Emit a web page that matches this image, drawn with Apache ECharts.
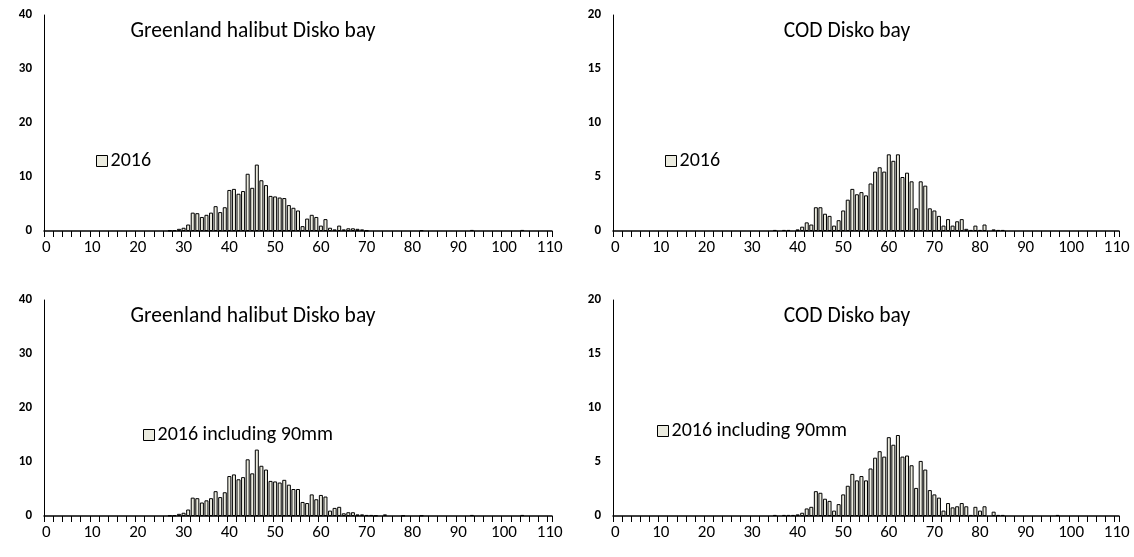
<!DOCTYPE html>
<html>
<head>
<meta charset="utf-8">
<script src="https://cdn.jsdelivr.net/npm/echarts@6/dist/echarts.min.js"></script>
<style>
  html, body { margin: 0; padding: 0; background: #fff; }
  #chart { width: 1134px; height: 557px; }
</style>
</head>
<body>
<div id="chart"></div>
<script>
// length classes (cm), one bar per cm
var lengthCm = [];
for (var i = 0; i <= 110; i++) lengthCm.push(String(i));
var yTicksGH = [0, 10, 20, 30, 40];
var yTicksCOD = [0, 5, 10, 15, 20];

// Greenland halibut, 2016, first bar at 27 cm
var ghStart = 27;
var gh2016 = [
  0.1, 0.15, 0.4, 0.6, 1.2, 3.4, 3.3, 2.6, 3.0, 3.4,
  4.6, 3.5, 4.4, 7.6, 7.8, 6.9, 7.4, 10.6, 8.0, 12.3,
  9.4, 8.5, 6.5, 6.4, 6.2, 6.1, 4.8, 4.3, 3.8, 0.9,
  2.3, 3.0, 2.6, 1.0, 2.2, 0.6, 0.3, 1.0, 0.3, 0.5,
  0.5, 0.4, 0.3, 0.1, 0, 0, 0, 0, 0, 0,
  0, 0, 0, 0, 0, 0.15, 0, 0, 0, 0,
  0, 0, 0, 0, 0, 0, 0.2, 0, 0, 0,
  0, 0, 0, 0, 0, 0, 0, 0.2
];
// Greenland halibut, 2016 including 90mm
var gh2016incl = [
  0.1, 0.15, 0.4, 0.6, 1.2, 3.4, 3.3, 2.5, 2.9, 3.3,
  4.6, 3.5, 4.4, 7.4, 7.7, 6.8, 7.2, 10.5, 7.9, 12.3,
  9.3, 8.6, 6.5, 6.4, 6.2, 6.7, 5.8, 5.0, 5.0, 2.6,
  2.4, 4.0, 3.1, 3.9, 3.6, 1.0, 1.5, 1.7, 0.5, 0.7,
  0.7, 0.3, 0.3, 0.2, 0.2, 0.1, 0, 0.3, 0, 0,
  0, 0.1, 0, 0, 0, 0.1, 0, 0, 0, 0,
  0, 0, 0, 0, 0, 0, 0.2, 0, 0, 0,
  0, 0, 0, 0, 0, 0, 0, 0.2
];

// Cod, 2016, first bar at 35 cm
var codStart = 35;
var cod2016 = [
  0.1, 0, 0.1, 0.1, 0, 0.15, 0.4, 0.8, 0.6, 2.2,
  2.2, 1.6, 1.4, 0.5, 1.0, 1.9, 2.9, 3.9, 3.4, 3.6,
  3.3, 4.4, 5.5, 5.9, 5.5, 7.1, 6.5, 7.1, 5.0, 5.4,
  4.6, 2.1, 4.6, 4.2, 2.1, 1.9, 1.4, 0.5, 1.1, 0.5,
  0.9, 1.1, 0.2, 0.1, 0.5, 0.1, 0.6, 0, 0.15, 0.1,
  0.1
];
var cod2016incl = [
  0.1, 0, 0.1, 0.1, 0.1, 0.15, 0.3, 0.7, 0.85, 2.3,
  2.15, 1.6, 1.4, 0.5, 1.1, 2.0, 2.8, 3.9, 3.3, 3.7,
  3.3, 4.4, 5.4, 6.0, 5.5, 7.3, 6.6, 7.5, 5.5, 5.6,
  4.7, 2.6, 5.1, 4.3, 2.4, 2.0, 1.7, 0.5, 1.2, 0.8,
  0.9, 1.2, 0.9, 0.1, 0.85, 0.5, 0.9, 0, 0.4, 0.1,
  0.1, 0, 0, 0, 0, 0, 0, 0, 0, 0,
  0, 0, 0.1
];

function spread(start, vals) {
  var out = lengthCm.map(function () { return null; });
  vals.forEach(function (v, k) { if (v) out[start + k] = v; });
  return out;
}

var FONT = 'Carlito, Lato, sans-serif';
var FILL = '#ebebdf';

var panels = [
  { title: 'Greenland halibut Disko bay', name: '2016', data: spread(ghStart, gh2016), ticks: yTicksGH,
    grid: { left: 44, top: 15, width: 508, height: 216 }, titleX: 253, titleY: 21, legX: 96, legY: 151 },
  { title: 'COD Disko bay', name: '2016', data: spread(codStart, cod2016), ticks: yTicksCOD,
    grid: { left: 613, top: 15, width: 506, height: 216 }, titleX: 847, titleY: 21, legX: 665, legY: 151 },
  { title: 'Greenland halibut Disko bay', name: '2016 including 90mm', data: spread(ghStart, gh2016incl), ticks: yTicksGH,
    grid: { left: 44, top: 300, width: 508, height: 216 }, titleX: 253, titleY: 306, legX: 143, legY: 425 },
  { title: 'COD Disko bay', name: '2016 including 90mm', data: spread(codStart, cod2016incl), ticks: yTicksCOD,
    grid: { left: 613, top: 300, width: 506, height: 216 }, titleX: 847, titleY: 306, legX: 657, legY: 421 }
];

var option = {
  animation: false,
  backgroundColor: '#fff',
  title: panels.map(function (p) {
    return { text: p.title, left: p.titleX, top: p.titleY, textAlign: 'center', padding: 0,
      textStyle: { fontFamily: FONT, fontSize: 21.5, fontWeight: 'normal', color: '#000' } };
  }),
  legend: panels.map(function (p) {
    return { data: [p.name], left: p.legX, top: p.legY, icon: 'rect', itemWidth: 11, itemHeight: 11, itemGap: 4,
      padding: 0, selectedMode: false,
      itemStyle: { borderWidth: 1, borderColor: '#000' },
      textStyle: { fontFamily: FONT, fontSize: 20, color: '#000', padding: [0, 0, 0, -2] } };
  }),
  grid: panels.map(function (p) { return p.grid; }),
  xAxis: panels.map(function (p, k) {
    return { type: 'category', gridIndex: k, data: lengthCm, boundaryGap: true,
      axisLine: { lineStyle: { color: '#000', width: 1.5 } },
      axisTick: { show: true, interval: 1, length: 6, lineStyle: { color: '#000' } },
      axisLabel: { interval: 9, fontFamily: FONT, fontSize: 17, color: '#000', margin: 8 },
      splitLine: { show: false } };
  }),
  yAxis: panels.map(function (p, k) {
    var t = p.ticks;
    return { type: 'value', gridIndex: k, min: t[0], max: t[t.length - 1], interval: t[1] - t[0],
      axisLine: { show: true, lineStyle: { color: '#000', width: 1 } },
      axisTick: { show: false },
      splitLine: { show: false },
      axisLabel: { fontFamily: FONT, fontSize: 13, fontWeight: 'bold', color: '#000', margin: 12 } };
  }),
  series: panels.map(function (p, k) {
    return { type: 'bar', name: p.name, xAxisIndex: k, yAxisIndex: k, data: p.data,
      barCategoryGap: '12%',
      itemStyle: { color: FILL, borderColor: '#000', borderWidth: 1 } };
  })
};

var chart = echarts.init(document.getElementById('chart'), null, { renderer: 'canvas' });
chart.setOption(option);
</script>
</body>
</html>
